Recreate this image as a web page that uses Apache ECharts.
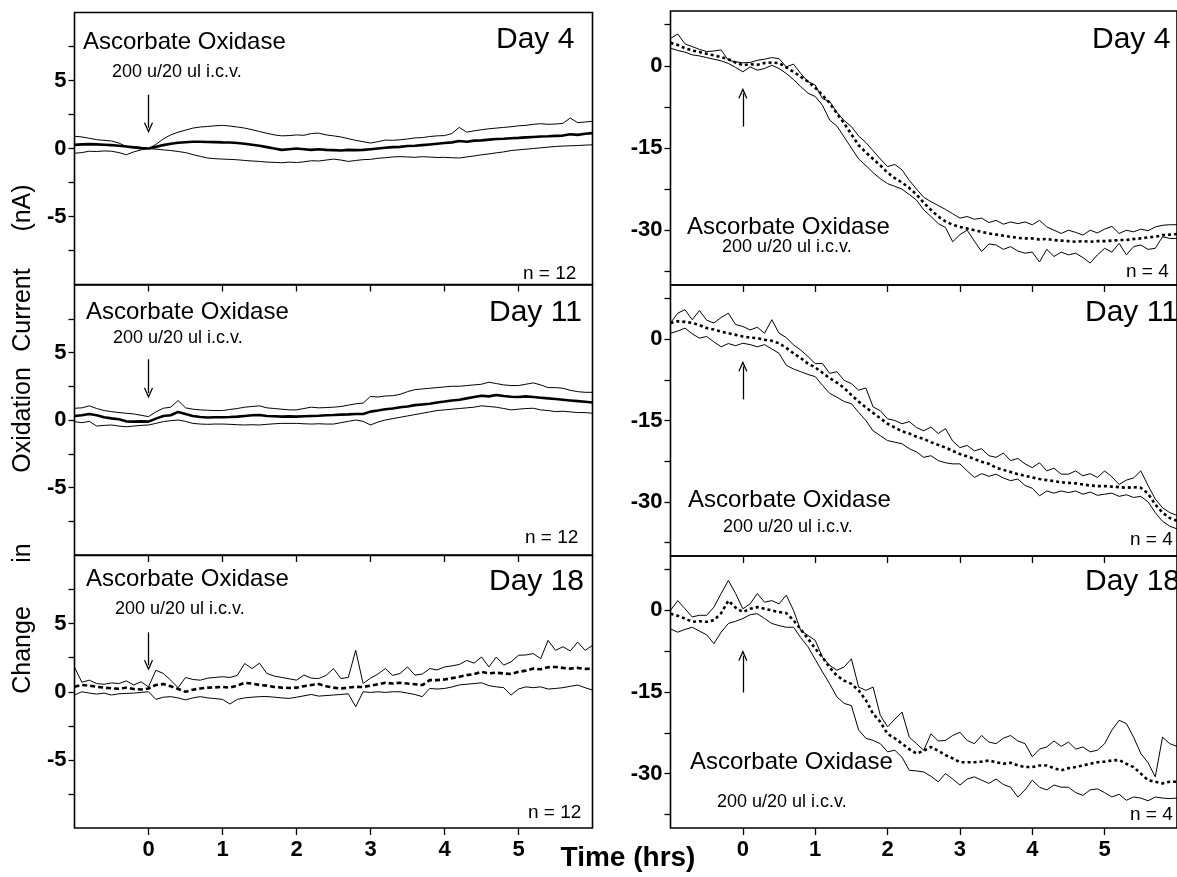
<!DOCTYPE html>
<html>
<head>
<meta charset="utf-8">
<script src="https://cdn.jsdelivr.net/npm/echarts@6/dist/echarts.min.js"></script>
<style>
html,body{margin:0;padding:0;background:#fff;}
#chart{width:1177px;height:877px;}
</style>
</head>
<body>
<div id="chart"></div>
<script>
// ---- Data ----
const timeHrs = [-1.0,-0.9,-0.8,-0.7,-0.6,-0.5,-0.4,-0.3,-0.2,-0.1,
  0.0,0.1,0.2,0.3,0.4,0.5,0.6,0.7,0.8,0.9,
  1.0,1.1,1.2,1.3,1.4,1.5,1.6,1.7,1.8,1.9,
  2.0,2.1,2.2,2.3,2.4,2.5,2.6,2.7,2.8,2.9,
  3.0,3.1,3.2,3.3,3.4,3.5,3.6,3.7,3.8,3.9,
  4.0,4.1,4.2,4.3,4.4,4.5,4.6,4.7,4.8,4.9,
  5.0,5.1,5.2,5.3,5.4,5.5,5.6,5.7,5.8,5.9,
  6.0];

const xTickLabels = [0,1,2,3,4,5];
const leftYLabels = [-5,0,5];
const leftYTicks = [-7.5,-5,-2.5,0,2.5,5,7.5];
const rightYLabels = [-30,-15,0];
const rightYTicks = [-37.5,-30,-22.5,-15,-7.5,0,7.5];

// Left column: Day 4
const leftDay4Mean = [0.27,0.30,0.32,0.30,0.28,0.25,0.20,0.15,0.08,0.03,
  0.00,0.12,0.25,0.35,0.42,0.46,0.50,0.50,0.48,0.47,
  0.45,0.44,0.40,0.35,0.28,0.20,0.10,0.00,-0.10,-0.05,
  0.00,-0.05,-0.10,-0.05,-0.10,-0.12,-0.15,-0.10,-0.12,-0.10,
  -0.05,0.00,0.05,0.10,0.12,0.18,0.20,0.25,0.30,0.35,
  0.40,0.45,0.55,0.50,0.58,0.60,0.65,0.70,0.72,0.75,
  0.78,0.82,0.85,0.88,0.90,0.93,0.95,1.05,1.00,1.08,
  1.13];
const leftDay4Upper = [0.90,0.85,0.75,0.65,0.60,0.55,0.40,0.15,0.15,0.08,
  0.00,0.30,0.70,1.00,1.20,1.35,1.50,1.58,1.62,1.67,
  1.70,1.65,1.58,1.50,1.38,1.25,1.12,1.00,0.93,0.95,
  1.00,0.97,1.10,1.13,1.00,0.93,0.85,0.72,0.60,0.50,
  0.40,0.50,0.62,0.60,0.64,0.70,0.78,0.80,0.88,0.93,
  0.95,1.10,1.55,1.20,1.30,1.38,1.45,1.50,1.55,1.60,
  1.67,1.70,1.78,1.82,1.78,1.80,1.85,2.24,1.90,1.95,
  2.00];
const leftDay4Lower = [-0.35,-0.30,-0.20,-0.22,-0.18,-0.20,-0.30,-0.46,-0.25,-0.10,
  0.00,-0.05,-0.10,-0.15,-0.22,-0.30,-0.45,-0.58,-0.70,-0.75,
  -0.78,-0.80,-0.83,-0.88,-0.92,-0.95,-1.00,-1.02,-1.05,-1.00,
  -1.03,-0.98,-0.90,-0.92,-0.85,-0.78,-0.85,-0.95,-0.88,-0.82,
  -0.80,-0.72,-0.68,-0.62,-0.60,-0.62,-0.65,-0.60,-0.63,-0.66,
  -0.65,-0.68,-0.70,-0.62,-0.55,-0.46,-0.40,-0.32,-0.25,-0.15,
  -0.10,-0.05,0.00,0.05,0.10,0.15,0.18,0.20,0.22,0.25,
  0.27];

// Left column: Day 11
const leftDay11Mean = [0.30,0.35,0.45,0.35,0.20,0.12,0.05,-0.10,-0.12,-0.10,
  -0.12,0.10,0.30,0.35,0.60,0.45,0.30,0.22,0.18,0.20,
  0.20,0.22,0.25,0.30,0.35,0.37,0.30,0.28,0.25,0.27,
  0.25,0.28,0.30,0.32,0.35,0.37,0.40,0.42,0.45,0.45,
  0.62,0.70,0.80,0.85,0.95,1.00,1.10,1.15,1.20,1.30,
  1.37,1.45,1.50,1.60,1.70,1.80,1.75,1.85,1.78,1.72,
  1.70,1.75,1.70,1.65,1.60,1.55,1.50,1.45,1.40,1.35,
  1.30];
const leftDay11Upper = [0.87,0.90,1.05,0.85,0.70,0.62,0.55,0.50,0.45,0.35,
  0.25,0.60,0.87,0.95,1.44,0.90,0.80,0.75,0.72,0.70,
  0.70,0.78,0.85,0.95,1.00,1.05,0.90,0.85,0.80,0.75,
  0.75,0.85,0.95,0.90,0.92,0.95,1.00,1.10,1.20,1.25,
  1.75,1.70,1.78,1.80,1.90,2.10,2.25,2.30,2.35,2.40,
  2.45,2.50,2.50,2.55,2.60,2.65,2.80,2.70,2.60,2.55,
  2.55,2.65,2.75,2.60,2.40,2.40,2.35,2.20,2.10,2.05,
  2.05];
const leftDay11Lower = [-0.12,-0.20,-0.10,-0.45,-0.40,-0.37,-0.45,-0.50,-0.45,-0.40,
  -0.37,-0.25,-0.12,-0.05,0.00,-0.10,-0.25,-0.30,-0.32,-0.30,
  -0.30,-0.32,-0.35,-0.37,-0.35,-0.37,-0.32,-0.28,-0.25,-0.25,
  -0.25,-0.28,-0.30,-0.28,-0.30,-0.30,-0.20,-0.10,0.00,-0.10,
  -0.37,-0.15,0.00,0.10,0.20,0.30,0.40,0.50,0.60,0.70,
  0.75,0.80,0.85,0.90,0.95,1.05,1.00,0.95,0.85,0.75,
  0.80,0.85,0.87,0.75,0.70,0.62,0.65,0.60,0.55,0.55,
  0.50];

// Left column: Day 18
const leftDay18Mean = [0.36,0.50,0.45,0.36,0.30,0.25,0.22,0.30,0.20,0.17,
  0.24,0.50,0.56,0.40,0.20,0.00,0.15,0.24,0.30,0.32,
  0.36,0.30,0.45,0.66,0.60,0.50,0.45,0.35,0.30,0.28,
  0.30,0.41,0.50,0.56,0.40,0.30,0.24,0.30,0.36,0.35,
  0.45,0.55,0.66,0.60,0.66,0.60,0.55,0.49,0.85,0.85,
  0.90,1.00,1.10,1.22,1.30,1.46,1.35,1.40,1.34,1.30,
  1.46,1.55,1.70,1.65,1.80,1.82,1.75,1.70,1.75,1.68,
  1.70];
const leftDay18Upper = [1.80,0.70,0.85,0.60,0.55,0.65,0.60,0.80,0.50,0.73,
  0.36,1.58,1.34,0.85,0.30,1.05,0.90,0.85,1.00,1.05,
  1.10,1.05,1.20,2.07,1.70,2.10,1.34,1.15,1.05,0.95,
  0.85,1.22,1.00,0.97,1.20,1.70,0.97,1.05,3.04,0.60,
  1.00,1.30,1.70,1.20,1.34,1.82,1.22,1.30,1.70,1.60,
  1.82,1.90,2.00,2.30,2.10,2.55,1.82,2.55,1.95,2.20,
  2.68,2.70,2.80,2.43,3.77,3.04,3.30,3.00,3.65,3.04,
  3.40];
const leftDay18Lower = [-0.24,0.00,-0.10,-0.17,-0.10,-0.24,-0.15,-0.12,-0.10,-0.05,
  0.00,-0.56,-0.40,-0.36,-0.45,-0.60,-0.45,-0.36,-0.45,-0.50,
  -0.56,-0.90,-0.56,-0.45,-0.40,-0.36,-0.35,-0.40,-0.45,-0.49,
  -0.40,-0.30,-0.20,-0.32,-0.28,-0.24,-0.20,-0.15,-1.10,0.00,
  -0.05,0.00,-0.05,0.00,0.00,-0.10,-0.20,-0.36,0.24,0.20,
  0.24,0.35,0.50,0.55,0.60,0.66,0.45,0.36,0.30,-0.24,
  0.20,0.36,0.30,0.36,0.20,0.24,0.30,0.40,0.49,0.30,
  0.12];

// Right column: Day 4
const rightDay4Mean = [4.2,3.8,3.2,2.8,2.5,2.2,1.9,1.6,1.2,0.6,
  0.1,0.3,0.2,0.5,0.6,0.5,-0.3,-1.1,-2.0,-2.9,
  -4.0,-5.35,-6.8,-8.7,-10.5,-12.5,-14.5,-15.8,-17.0,-18.2,
  -19.5,-20.5,-21.3,-22.3,-23.5,-25.0,-26.3,-27.5,-28.4,-29.0,
  -29.4,-29.7,-30.0,-30.3,-30.6,-30.8,-31.0,-31.2,-31.4,-31.5,
  -31.5,-31.7,-31.6,-31.8,-31.9,-32.0,-32.1,-32.0,-32.1,-32.0,
  -32.0,-31.9,-31.8,-31.8,-31.6,-31.5,-31.3,-31.2,-30.9,-30.8,
  -30.7];
const rightDay4Upper = [5.0,5.8,4.0,3.5,3.0,2.6,2.7,2.9,1.0,0.73,
  0.55,0.6,1.0,1.2,1.5,1.3,-0.2,0.3,-1.4,-2.9,
  -3.5,-6.0,-6.5,-8.5,-10.0,-11.1,-12.8,-14.0,-15.5,-17.0,
  -18.4,-18.0,-19.0,-20.9,-22.5,-24.0,-24.8,-25.5,-26.2,-27.0,
  -27.8,-27.5,-28.0,-27.8,-28.6,-28.2,-28.9,-28.5,-28.8,-28.5,
  -29.0,-28.2,-29.4,-30.0,-30.6,-30.0,-30.4,-30.9,-30.0,-30.5,
  -29.8,-29.3,-30.6,-30.0,-30.3,-29.8,-30.1,-29.4,-29.1,-29.0,
  -29.0];
const rightDay4Lower = [3.2,2.8,2.5,2.0,1.8,1.5,1.2,0.9,0.43,-0.3,
  -1.1,-0.2,-0.8,-0.5,0.1,-0.5,-1.4,-2.5,-3.8,-5.0,
  -5.6,-7.2,-9.9,-11.0,-13.0,-15.0,-17.0,-18.2,-19.5,-20.6,
  -21.5,-22.0,-22.5,-23.5,-24.5,-26.3,-27.5,-28.8,-29.5,-32.1,
  -30.8,-30.0,-32.0,-33.9,-32.5,-32.7,-33.5,-33.0,-33.8,-34.2,
  -34.0,-35.8,-33.5,-34.8,-34.0,-34.5,-34.2,-35.0,-36.0,-34.5,
  -33.3,-34.0,-32.4,-34.5,-33.0,-32.7,-33.5,-33.3,-31.2,-31.5,
  -31.5];

// Right column: Day 11
const rightDay11Mean = [3.0,3.3,3.2,3.0,2.6,2.05,1.8,1.4,1.1,0.8,
  0.5,0.3,0.2,-0.1,-0.3,-0.75,-1.6,-2.6,-3.5,-4.5,
  -5.2,-6.2,-7.2,-8.0,-9.0,-10.3,-11.5,-12.6,-13.6,-14.6,
  -15.6,-16.3,-17.0,-17.4,-18.0,-18.4,-19.0,-19.5,-20.0,-20.6,
  -21.2,-21.6,-22.1,-22.6,-23.0,-23.7,-24.1,-24.5,-24.9,-25.2,
  -25.5,-25.8,-26.0,-26.2,-26.4,-26.5,-26.6,-26.8,-27.0,-27.1,
  -27.1,-27.2,-27.3,-27.4,-27.3,-27.4,-28.5,-30.5,-32.0,-33.0,
  -33.5];
const rightDay11Upper = [3.0,4.8,5.45,3.6,5.3,3.5,3.0,4.0,4.8,2.7,
  2.35,1.7,2.2,1.1,3.6,1.1,0.3,-1.05,-2.0,-3.2,
  -4.5,-4.5,-6.3,-6.0,-7.6,-8.2,-9.4,-9.0,-12.5,-13.2,
  -14.7,-15.0,-15.6,-15.2,-16.3,-16.9,-16.2,-17.4,-16.5,-18.8,
  -20.0,-19.6,-20.6,-20.2,-21.5,-21.8,-21.0,-22.4,-22.0,-23.0,
  -23.7,-22.8,-24.3,-23.8,-24.9,-24.9,-24.3,-25.2,-24.8,-25.5,
  -24.3,-25.4,-26.8,-26.0,-25.6,-24.3,-27.0,-29.5,-31.1,-32.0,
  -32.5];
const rightDay11Lower = [1.1,1.5,2.05,1.0,0.2,0.5,-0.5,-1.4,-0.8,-1.2,
  -0.75,-1.0,-1.4,-1.0,-1.8,-2.6,-4.8,-5.5,-6.0,-6.5,
  -6.9,-8.5,-10.0,-10.7,-11.5,-11.9,-13.5,-15.0,-16.9,-17.8,
  -18.7,-19.0,-19.3,-20.2,-20.8,-21.8,-21.5,-22.4,-22.8,-23.0,
  -23.0,-24.3,-25.5,-24.8,-25.3,-24.9,-25.6,-26.1,-25.8,-27.0,
  -27.5,-28.9,-28.0,-28.4,-28.0,-28.3,-28.0,-28.6,-28.2,-28.8,
  -28.6,-28.4,-29.0,-28.7,-29.2,-29.0,-30.0,-32.0,-33.6,-34.5,
  -35.0];

// Right column: Day 18
const rightDay18Mean = [-0.6,-1.0,-1.5,-2.1,-2.0,-2.1,-1.8,-0.5,1.8,0.5,
  -0.3,0.3,0.6,0.3,0.0,-0.3,-0.5,-1.8,-3.5,-5.2,
  -7.0,-8.6,-10.5,-12.0,-12.9,-13.5,-14.7,-16.5,-19.0,-20.5,
  -22.7,-23.5,-24.5,-25.5,-26.3,-25.8,-25.1,-25.8,-26.6,-27.2,
  -27.9,-27.9,-27.9,-27.8,-27.6,-27.9,-28.2,-28.0,-28.5,-28.8,
  -28.8,-28.5,-28.5,-29.0,-29.4,-29.0,-28.8,-28.5,-28.2,-27.9,
  -27.8,-27.6,-27.5,-28.2,-28.8,-30.0,-31.2,-31.5,-31.8,-31.5,
  -31.5];
const rightDay18Upper = [0.0,1.8,0.3,-1.2,-0.9,-0.9,0.6,3.1,5.5,3.1,
  0.3,1.2,3.1,1.5,1.8,1.2,2.8,0.0,-3.7,-4.6,
  -5.5,-8.6,-10.1,-11.0,-10.4,-8.9,-14.1,-14.7,-14.1,-19.3,
  -21.4,-20.0,-18.7,-23.3,-24.5,-25.7,-22.7,-24.0,-23.9,-23.0,
  -22.4,-23.9,-24.5,-23.0,-24.2,-24.5,-23.5,-23.0,-24.0,-24.5,
  -26.9,-25.5,-25.1,-24.0,-25.0,-24.2,-25.5,-25.1,-26.0,-25.7,
  -24.5,-22.0,-20.2,-20.8,-23.3,-26.3,-28.0,-30.6,-23.3,-24.5,
  -25.0];
const rightDay18Lower = [-3.4,-4.0,-3.5,-3.1,-3.8,-4.5,-6.1,-4.0,-2.4,-2.0,
  -1.5,-0.8,-0.6,-1.5,-2.4,-2.8,-3.1,-3.1,-5.0,-6.7,
  -9.0,-11.3,-13.5,-15.9,-17.1,-17.5,-22.0,-23.5,-23.9,-24.5,
  -26.0,-25.7,-27.0,-29.4,-29.5,-29.7,-30.5,-31.5,-30.0,-31.0,
  -32.1,-31.0,-30.6,-31.2,-31.8,-31.0,-32.0,-32.5,-34.3,-33.0,
  -31.2,-32.5,-33.0,-32.1,-32.5,-32.5,-33.5,-34.0,-33.0,-32.8,
  -33.5,-34.3,-33.8,-34.9,-34.3,-34.5,-35.0,-34.3,-34.5,-34.6,
  -34.5];

// arrows (drug injection at t = 0): [start value, end value]
const leftArrows = [[3.96,1.53],[4.5,2.0],[4.36,1.95]];
const rightArrows = [[-11.1,-5.0],[-11.1,-5.0],[-15.1,-8.3]];

// ---- Build chart ----
const FONT = '"Liberation Sans", Arial, Helvetica, sans-serif';
const pair = arr => timeHrs.map((t, i) => [t, arr[i]]);

const panels = [
  {grid:{left:74.5, top:12.5, width:518, height:272}, side:'L', bottom:false, up:leftDay4Upper, mean:leftDay4Mean, low:leftDay4Lower, meanType:'solid', arrow:leftArrows[0]},
  {grid:{left:74.5, top:285, width:518, height:270}, side:'L', bottom:false, up:leftDay11Upper, mean:leftDay11Mean, low:leftDay11Lower, meanType:'solid', arrow:leftArrows[1]},
  {grid:{left:74.5, top:555.5, width:518, height:272.5}, side:'L', bottom:true, up:leftDay18Upper, mean:leftDay18Mean, low:leftDay18Lower, meanType:[5,3], arrow:leftArrows[2]},
  {grid:{left:670.5, top:11, width:518.8, height:274}, side:'R', bottom:false, up:rightDay4Upper, mean:rightDay4Mean, low:rightDay4Lower, meanType:[3,3], arrow:rightArrows[0]},
  {grid:{left:670.5, top:285, width:518.8, height:271}, side:'R', bottom:false, up:rightDay11Upper, mean:rightDay11Mean, low:rightDay11Lower, meanType:[3,3], arrow:rightArrows[1]},
  {grid:{left:670.5, top:556, width:518.8, height:272}, side:'R', bottom:true, up:rightDay18Upper, mean:rightDay18Mean, low:rightDay18Lower, meanType:[3,3], arrow:rightArrows[2]}
];

const grid = [], xAxis = [], yAxis = [], series = [];
panels.forEach((p, i) => {
  grid.push(Object.assign({show:true, borderColor:'#000', borderWidth:1.6, backgroundColor:'transparent'}, p.grid));
  xAxis.push({
    type:'value', gridIndex:i, min:-1, max:6, interval:1, position:'bottom',
    axisLine:{show:false, onZero:false}, splitLine:{show:false},
    axisTick:{show:true, inside:false, length:7, customValues:xTickLabels, lineStyle:{color:'#000', width:1.3}},
    axisLabel:{show:p.bottom, customValues:xTickLabels, margin:11, color:'#000', fontFamily:FONT, fontSize:22, fontWeight:'bold'}
  });
  const L = p.side === 'L';
  yAxis.push({
    type:'value', gridIndex:i, min:L?-10:-40, max:10, interval:L?2.5:7.5, position:'left',
    axisLine:{show:false, onZero:false}, splitLine:{show:false},
    axisTick:{show:true, inside:false, length:6, customValues:L?leftYTicks:rightYTicks, lineStyle:{color:'#000', width:1.3}},
    axisLabel:{show:true, customValues:L?leftYLabels:rightYLabels, margin:8, color:'#000', fontFamily:FONT, fontSize:22, fontWeight:'bold'}
  });
  const base = {type:'line', xAxisIndex:i, yAxisIndex:i, showSymbol:false, symbol:'none', silent:true, animation:false, z:3};
  series.push(Object.assign({}, base, {data:pair(p.up), lineStyle:{color:'#000', width:1}}));
  series.push(Object.assign({}, base, {data:pair(p.low), lineStyle:{color:'#000', width:1}}));
  series.push(Object.assign({}, base, {data:pair(p.mean), lineStyle:{color:'#000', width:2.6, type:p.meanType},
    markLine:{
      silent:true, animation:false,
      symbol:['none','path://M5,0 L10,9 L8.9,9.7 L5,2.8 L1.1,9.7 L0,9 Z'],
      symbolSize:[9,11],
      label:{show:false},
      lineStyle:{color:'#000', width:1.3, type:'solid'},
      data:[[{coord:[0,p.arrow[0]]},{coord:[0,p.arrow[1]]}]]
    }
  }));
});

function txt(text, x, y, size, align, weight) {
  return {type:'text', x:x, y:y, silent:true,
    style:{text:text, x:0, y:0, fill:'#000', font:(weight||'normal')+' '+size+'px '+FONT,
      textAlign:align||'left', textVerticalAlign:'middle', align:align||'left', verticalAlign:'middle'}};
}
function vtxt(text, x, y, size) {
  const t = txt(text, x, y, size, 'center');
  t.rotation = Math.PI/2;
  return t;
}

const graphics = [
  // left column
  txt('Ascorbate Oxidase', 83, 42, 24), txt('200 u/20 ul i.c.v.', 112, 72, 18), txt('Day 4', 496, 40, 30), txt('n = 12', 523, 274, 19),
  txt('Ascorbate Oxidase', 86, 312, 24), txt('200 u/20 ul i.c.v.', 113, 338, 18), txt('Day 11', 489, 313, 30), txt('n = 12', 525, 538, 19),
  txt('Ascorbate Oxidase', 86, 579, 24), txt('200 u/20 ul i.c.v.', 115, 609, 18), txt('Day 18', 489, 582, 30), txt('n = 12', 528, 813, 19),
  // right column
  txt('Day 4', 1092, 40, 30), txt('Ascorbate Oxidase', 687, 227, 24), txt('200 u/20 ul i.c.v.', 722, 247, 18), txt('n = 4', 1126, 272, 19),
  txt('Day 11', 1085, 313, 30), txt('Ascorbate Oxidase', 688, 500, 24), txt('200 u/20 ul i.c.v.', 723, 527, 18), txt('n = 4', 1130, 540, 19),
  txt('Day 18', 1085, 582, 30), txt('Ascorbate Oxidase', 690, 762, 24), txt('200 u/20 ul i.c.v.', 717, 802, 18), txt('n = 4', 1130, 815, 19),
  // axis titles
  vtxt('(nA)', 23, 208, 25), vtxt('Current', 23, 310, 25), vtxt('Oxidation', 23, 420, 25), vtxt('in', 23, 553, 25), vtxt('Change', 23, 650, 25),
  txt('Time (hrs)', 628, 858, 28, 'center', 'bold')
];

const chart = echarts.init(document.getElementById('chart'), null, {renderer:'canvas'});
chart.setOption({
  animation:false,
  backgroundColor:'#fff',
  grid:grid, xAxis:xAxis, yAxis:yAxis, series:series,
  graphic:{elements:graphics}
});
</script>
</body>
</html>
